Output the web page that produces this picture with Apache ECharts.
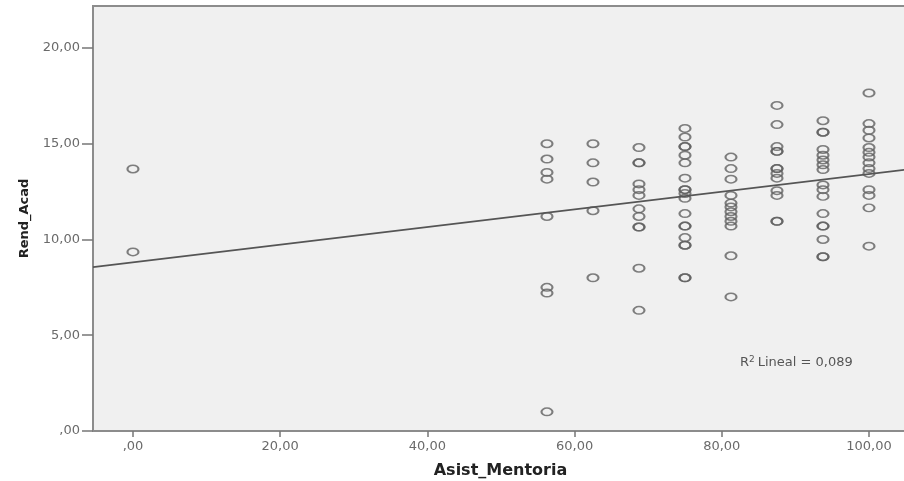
<!DOCTYPE html>
<html>
<head>
<meta charset="utf-8">
<script src="https://cdn.jsdelivr.net/npm/echarts@6/dist/echarts.min.js"></script>
<style>html,body{margin:0;padding:0;background:#fff;overflow:hidden;}#c{width:904px;height:481px;}</style>
</head>
<body>
<div id="c"></div>
<script>
// Asist_Mentoria groups (x) and Rend_Acad values (y)
const asist = [0, 56.25, 62.5, 68.75, 75, 81.25, 87.5, 93.75, 100];
const rend_0     = [13.68, 9.35];
const rend_56_25 = [15.0, 14.2, 13.5, 13.15, 11.2, 7.5, 7.2, 1.0];
const rend_62_5  = [15.0, 14.0, 13.0, 11.5, 8.0];
const rend_68_75 = [14.8, 14.0, 14.0, 12.9, 12.6, 12.3, 11.6, 11.2, 10.65, 10.65, 8.5, 6.3];
const rend_75    = [15.8, 15.35, 14.85, 14.85, 14.4, 14.0, 13.2, 12.6, 12.6, 12.4, 12.15, 11.35, 10.7, 10.7, 10.1, 9.7, 9.7, 8.0, 8.0];
const rend_81_25 = [14.3, 13.7, 13.15, 12.3, 11.9, 11.7, 11.45, 11.2, 10.95, 10.7, 9.15, 7.0];
const rend_87_5  = [17.0, 16.0, 14.85, 14.6, 14.6, 13.7, 13.7, 13.45, 13.2, 12.55, 12.3, 10.95, 10.95];
const rend_93_75 = [16.2, 15.6, 15.6, 14.7, 14.4, 14.15, 13.9, 13.65, 12.85, 12.6, 12.25, 11.35, 10.7, 10.7, 10.0, 9.1, 9.1];
const rend_100   = [17.65, 16.05, 15.7, 15.3, 14.8, 14.55, 14.3, 14.0, 13.7, 13.45, 12.6, 12.3, 11.65, 9.65];
const rendGroups = [rend_0, rend_56_25, rend_62_5, rend_68_75, rend_75, rend_81_25, rend_87_5, rend_93_75, rend_100];

// Fit line end points
const fitLine = [[-5.43, 8.56], [105.3, 13.66]];
const r2Label = 'R{s|2}Lineal = 0,089';

const xTicks = [0, 20, 40, 60, 80, 100];
const yTicks = [0, 5, 10, 15, 20];

const points = [];
rendGroups.forEach((g, i) => g.forEach(v => points.push([asist[i], v])));

const fmt = v => v === 0 ? ',00' : v.toFixed(2).replace('.', ',');

const chart = echarts.init(document.getElementById('c'), null, {renderer: 'canvas'});
chart.setOption({
  animation: false,
  backgroundColor: '#ffffff',
  grid: {
    left: 93, width: 815, top: 6, height: 425,
    containLabel: false, outerBoundsMode: 'none',
    show: true, backgroundColor: '#f0f0f0', borderColor: '#8c8c8c', borderWidth: 2
  },
  xAxis: {
    type: 'value', min: -5.43, max: 105.3,
    name: 'Asist_Mentoria', nameLocation: 'middle', nameGap: 32,
    nameTextStyle: {fontFamily: 'DejaVu Sans', fontWeight: 'bold', fontSize: 16, color: '#222'},
    splitLine: {show: false},
    axisLine: {show: true, onZero: false, lineStyle: {color: '#8c8c8c', width: 2}},
    axisTick: {show: true, length: 6, customValues: xTicks, lineStyle: {color: '#777', width: 1.5}},
    axisLabel: {customValues: xTicks, formatter: fmt, margin: 9, fontFamily: 'DejaVu Sans', fontSize: 13, color: '#6a6a6a'}
  },
  yAxis: {
    type: 'value', min: 0, max: 22.19,
    name: 'Rend_Acad', nameLocation: 'middle', nameGap: 62, nameRotate: 90,
    nameTextStyle: {fontFamily: 'DejaVu Sans', fontWeight: 'bold', fontSize: 13, color: '#222'},
    splitLine: {show: false},
    axisLine: {show: true, onZero: false, lineStyle: {color: '#8c8c8c', width: 2}},
    axisTick: {show: true, length: 11, customValues: yTicks, lineStyle: {color: '#777', width: 1.5}},
    axisLabel: {customValues: yTicks, formatter: fmt, margin: 13, fontFamily: 'DejaVu Sans', fontSize: 13, color: '#6a6a6a'}
  },
  series: [
    {
      type: 'scatter', data: points, symbol: 'circle', symbolSize: [11, 7.5],
      itemStyle: {color: 'rgba(0,0,0,0)', borderColor: '#606060', borderWidth: 1.8},
      emphasis: {disabled: true}, z: 3
    },
    {
      type: 'line', data: fitLine, showSymbol: false, symbol: 'none',
      lineStyle: {color: '#555', width: 1.8}, z: 4, silent: true
    }
  ],
  graphic: [{
    type: 'text', left: 740, top: 355,
    style: {
      text: r2Label, fontFamily: 'DejaVu Sans', fontSize: 13, fill: '#555',
      rich: {s: {fontSize: 9, padding: [0, 3, 7, 0], fill: '#555', fontFamily: 'DejaVu Sans'}}
    }
  }]
});
</script>
</body>
</html>
